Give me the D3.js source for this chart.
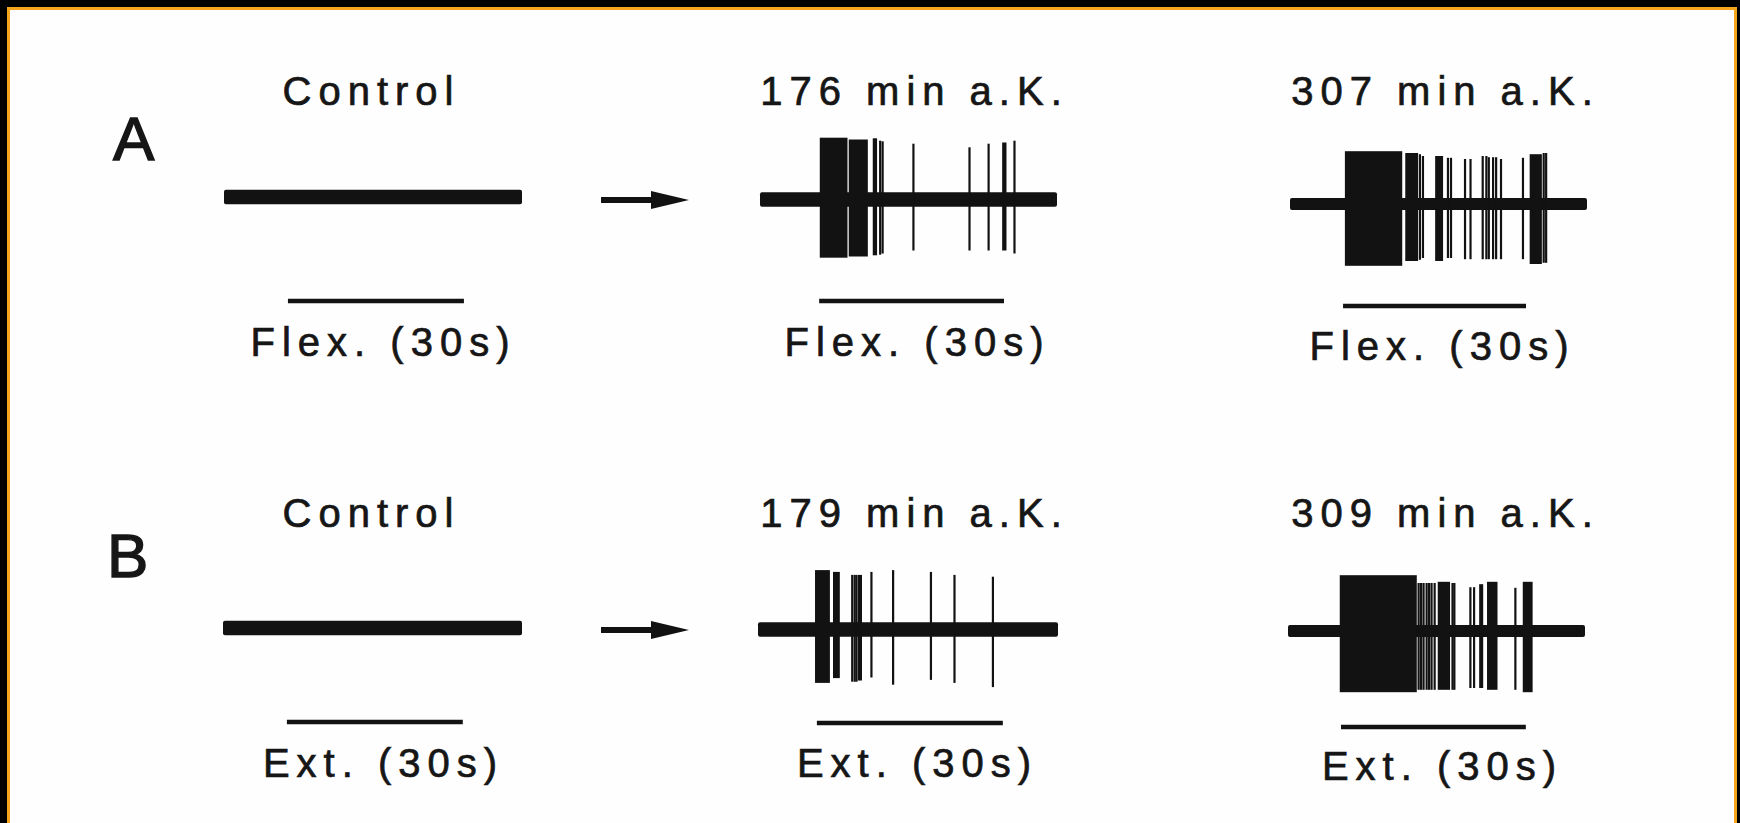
<!DOCTYPE html>
<html>
<head>
<meta charset="utf-8">
<script src="https://cdn.jsdelivr.net/npm/d3@7"></script>
<style>
  html, body { margin: 0; padding: 0; background: #fff; }
  svg { display: block; }
  text { font-family: "Liberation Sans", Arial, Helvetica, sans-serif; fill: #161616; stroke: #161616; stroke-width: 0.7px; }
</style>
</head>
<body>
<svg id="fig" width="1740" height="823"></svg>
<script>
// ---- Recording data -------------------------------------------------------
const rowLetters = ["A", "B"];
const movements = ["Flex.", "Ext."];
const conditionsA = ["Control", "176 min a.K.", "307 min a.K."];
const conditionsB = ["Control", "179 min a.K.", "309 min a.K."];
const barSeconds = 30;

// trace length (s) and onset of the 30 s movement bar (s), per panel
const durationsA = [50.8, 48.2, 48.7];
const durationsB = [51.0, 48.4, 48.2];
const barOnsetsA = [10.9, 9.6, 8.7];
const barOnsetsB = [10.9, 9.5, 8.6];
// baseline noise band (normalised amplitude)
const noiseA = [0.12, 0.12, 0.10];
const noiseB = [0.12, 0.12, 0.10];

// dense discharge epochs: [start s, end s, upward amp, downward amp]
const burstsA = [
  [],
  [[9.7, 14.2, 1.03, 0.97], [14.4, 17.5, 1.00, 0.95], [18.3, 19.0, 1.02, 0.93], [39.3, 40.0, 0.95, 0.85]],
  [[9.0, 18.4, 0.88, 1.03], [18.9, 21.0, 0.85, 0.95], [23.8, 25.1, 0.80, 0.95], [39.3, 41.3, 0.83, 1.00]]
];
const burstsB = [
  [],
  [[9.2, 11.6, 0.99, 0.89], [12.1, 13.2, 0.96, 0.81]],
  [[8.4, 20.9, 0.93, 1.02], [24.3, 26.3, 0.82, 0.98], [32.3, 34.0, 0.82, 0.98], [38.1, 39.7, 0.82, 1.02]]
];

// single spikes: [time s, upward amp, downward amp]
const spikesA = [
  [],
  [[19.5, 0.98, 0.92], [19.9, 0.97, 0.90], [24.9, 0.93, 0.85], [34.0, 0.87, 0.85],
   [37.1, 0.93, 0.85], [41.3, 0.98, 0.90]],
  [[21.3, 0.83, 0.93], [21.8, 0.80, 0.90], [25.9, 0.77, 0.90], [26.4, 0.77, 0.90],
   [28.7, 0.75, 0.92], [29.6, 0.75, 0.92], [31.6, 0.80, 0.92], [32.2, 0.80, 0.92],
   [32.6, 0.78, 0.92], [33.3, 0.78, 0.92], [33.8, 0.78, 0.92], [34.6, 0.75, 0.92],
   [38.2, 0.77, 0.92], [41.6, 0.85, 0.98], [42.0, 0.85, 0.98]]
];
const spikesB = [
  [],
  [[15.2, 0.91, 0.87], [15.6, 0.91, 0.87], [15.9, 0.91, 0.87], [16.3, 0.91, 0.85],
   [16.6, 0.91, 0.85], [18.3, 0.96, 0.80], [21.8, 0.99, 0.92], [27.9, 0.96, 0.84],
   [31.7, 0.91, 0.89], [37.9, 0.88, 0.96]],
  [[21.2, 0.80, 0.98], [21.6, 0.80, 0.98], [22.0, 0.80, 0.98], [22.5, 0.80, 0.98],
   [22.9, 0.80, 0.98], [23.3, 0.80, 0.98], [23.8, 0.80, 0.98], [26.7, 0.80, 0.98],
   [27.0, 0.80, 0.98], [29.6, 0.73, 0.95], [30.2, 0.73, 0.95], [31.2, 0.78, 0.95],
   [31.5, 0.78, 0.95], [36.9, 0.72, 0.98]]
];

// ---- Layout -----------------------------------------------------------------
const W = 1740, H = 823;
const ink = "#121212";
const traceXA = [[224, 522], [760, 1057], [1290, 1587]];
const traceXB = [[223, 522], [758, 1058], [1288, 1585]];
const traceYA = [197, 199.5, 204];
const traceYB = [628, 629.5, 631];
const barYA = [301, 301, 306];
const barYB = [722, 723, 727];
const ampPx = 60;           // pixels per unit amplitude
const headerX = [368, 911, 1442];
const footerX = [380, 914, 1439];
const headerBase = [105, 527];
const footerBaseA = [356, 356, 360];
const footerBaseB = [777, 777, 780];
const letterPos = [[113, 160], [107, 577]];
const arrowX = [601, 689];
const arrowY = [200, 630];
const fontSize = 40, tracking = 7;

const svg = d3.select("#fig");

// page and frame
svg.append("rect").attr("width", W).attr("height", H).attr("fill", "#fefefe");
svg.append("rect").attr("x", 0).attr("y", 0).attr("width", W).attr("height", 7).attr("fill", "#000");
svg.append("rect").attr("x", 0).attr("y", 0).attr("width", 7).attr("height", H).attr("fill", "#000");
svg.append("rect").attr("x", W - 3).attr("y", 0).attr("width", 3).attr("height", H).attr("fill", "#000");
svg.append("path")
  .attr("d", `M8.5,${H + 5} L8.5,8.5 L${W - 4.5},8.5 L${W - 4.5},${H + 5}`)
  .attr("fill", "none").attr("stroke", "#f7a51c").attr("stroke-width", 3);

function drawPanel(g, dur, onset, noise, bursts, spikes, xr, cy, barY) {
  const x = d3.scaleLinear().domain([0, dur]).range(xr);
  const y = d3.scaleLinear().domain([-1, 1]).range([cy + ampPx, cy - ampPx]);

  // baseline noise band
  g.append("rect")
    .attr("x", x(0)).attr("width", x(dur) - x(0))
    .attr("y", y(noise)).attr("height", y(-noise) - y(noise))
    .attr("rx", 2).attr("fill", ink);

  // dense discharge epochs
  g.selectAll("rect.burst").data(bursts).join("rect")
    .attr("class", "burst")
    .attr("x", d => x(d[0])).attr("width", d => x(d[1]) - x(d[0]))
    .attr("y", d => y(d[2])).attr("height", d => y(-d[3]) - y(d[2]))
    .attr("fill", ink);

  // single spikes
  g.selectAll("line.spike").data(spikes).join("line")
    .attr("class", "spike")
    .attr("x1", d => x(d[0])).attr("x2", d => x(d[0]))
    .attr("y1", d => y(d[1])).attr("y2", d => y(-d[2]))
    .attr("stroke", ink).attr("stroke-width", 2.2);

  // 30 s movement bar
  g.append("line")
    .attr("x1", x(onset)).attr("x2", x(onset + barSeconds))
    .attr("y1", barY).attr("y2", barY)
    .attr("stroke", ink).attr("stroke-width", 4.5);
}

function label(txt, cx, base) {
  svg.append("text")
    .attr("x", cx + tracking / 2).attr("y", base)
    .attr("text-anchor", "middle")
    .attr("font-size", fontSize)
    .style("letter-spacing", tracking + "px")
    .text(txt);
}

const rowsData = [
  { cond: conditionsA, dur: durationsA, onset: barOnsetsA, noise: noiseA, bursts: burstsA,
    spikes: spikesA, tx: traceXA, ty: traceYA, by: barYA, fb: footerBaseA },
  { cond: conditionsB, dur: durationsB, onset: barOnsetsB, noise: noiseB, bursts: burstsB,
    spikes: spikesB, tx: traceXB, ty: traceYB, by: barYB, fb: footerBaseB }
];

rowsData.forEach((r, ri) => {
  // row letter
  svg.append("text")
    .attr("x", letterPos[ri][0]).attr("y", letterPos[ri][1])
    .attr("font-size", 62)
    .style("stroke-width", "1.4px")
    .text(rowLetters[ri]);

  // arrow from control to post-lesion recordings
  const ay = arrowY[ri];
  svg.append("line")
    .attr("x1", arrowX[0]).attr("x2", arrowX[1] - 30)
    .attr("y1", ay).attr("y2", ay)
    .attr("stroke", ink).attr("stroke-width", 6);
  svg.append("path")
    .attr("d", `M${arrowX[1] - 38},${ay - 9} L${arrowX[1]},${ay} L${arrowX[1] - 38},${ay + 9} Z`)
    .attr("fill", ink);

  for (let c = 0; c < 3; c++) {
    const g = svg.append("g");
    drawPanel(g, r.dur[c], r.onset[c], r.noise[c], r.bursts[c], r.spikes[c], r.tx[c], r.ty[c], r.by[c]);
    label(r.cond[c], headerX[c], headerBase[ri]);
    label(`${movements[ri]} (${barSeconds}s)`, footerX[c], r.fb[c]);
  }
});
</script>
</body>
</html>
